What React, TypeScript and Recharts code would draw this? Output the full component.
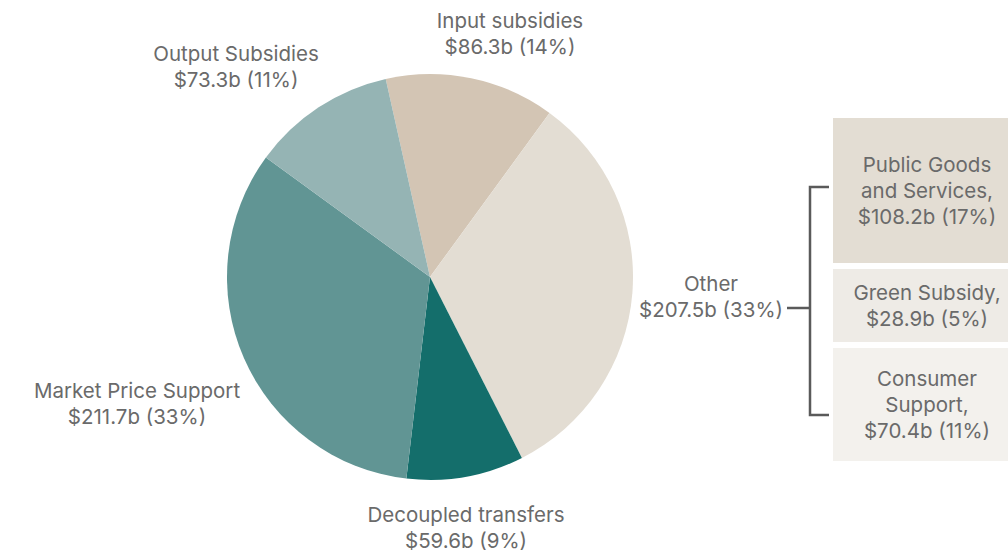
import React from "react";
import { PieChart, Pie, Cell } from "recharts";

const CATEGORIES = [
  "Input subsidies",
  "Other",
  "Decoupled transfers",
  "Market Price Support",
  "Output Subsidies",
];
const VALUES = [86.3, 207.5, 59.6, 211.7, 73.3];
const SHARES = [14, 33, 9, 33, 11];
const COLORS = ["#d3c5b4", "#e3ddd3", "#146e6b", "#619594", "#95b4b4"];

const OTHER_NAMES = [["Public Goods", "and Services,"], ["Green Subsidy,"], ["Consumer", "Support,"]];
const OTHER_VALUES = [108.2, 28.9, 70.4];
const OTHER_SHARES = [17, 5, 11];
const OTHER_COLORS = ["#e3ddd3", "#eeebe6", "#f3f1ed"];
const OTHER_HEIGHTS = [145, 73, 113];

const TEXT = "#6a6a6a";
const FONT = "Inter, 'Noto Sans', sans-serif";
const FS = 20.5;

// label centre offsets from the pie centre
const LABEL_OFFSETS = [
  [80, -244],
  [281, 19],
  [36, 250],
  [-293, 126],
  [-194, -211],
];

const pieData = CATEGORIES.map((name, i) => ({
  name,
  value: VALUES[i],
  share: SHARES[i],
}));

const fmt = (v: number, s: number) => `$${v.toFixed(1)}b (${s}%)`;

function renderLabel(props: any) {
  const { cx, cy, index } = props;
  const [dx, dy] = LABEL_OFFSETS[index];
  const x = cx + dx;
  const y = cy + dy;
  return (
    <g key={`lbl-${index}`}>
      <text x={x} y={y - 13} textAnchor="middle" dominantBaseline="central" fill={TEXT} fontSize={FS} fontFamily={FONT}>
        {CATEGORIES[index]}
      </text>
      <text x={x} y={y + 13} textAnchor="middle" dominantBaseline="central" fill={TEXT} fontSize={FS} fontFamily={FONT}>
        {fmt(VALUES[index], SHARES[index])}
      </text>
    </g>
  );
}

export default function App() {
  return (
    <div style={{ position: "absolute", left: 0, top: 0, width: 1008, height: 553, overflow: "hidden", background: "#fff" }}>
      <PieChart width={1008} height={553} margin={{ top: 0, right: 0, bottom: 0, left: 0 }}>
        <Pie
          data={pieData}
          dataKey="value"
          nameKey="name"
          cx={430}
          cy={277}
          outerRadius={203}
          startAngle={102.6}
          endAngle={-257.4}
          stroke="none"
          label={renderLabel}
          labelLine={false}
          isAnimationActive={false}
        >
          {pieData.map((d, i) => (
            <Cell key={d.name} fill={COLORS[i]} />
          ))}
        </Pie>
      </PieChart>
      <svg width={1008} height={553} style={{ position: "absolute", left: 0, top: 0, pointerEvents: "none" }}>
        <g stroke="#5a5a5a" strokeWidth={2.5} fill="none">
          <line x1={787} y1={308} x2={810} y2={308} />
          <polyline points="829,187 810,187 810,415 829,415" />
        </g>
      </svg>
      <div style={{ position: "absolute", left: 833, top: 118, width: 188, display: "flex", flexDirection: "column", gap: 6 }}>
        {OTHER_NAMES.map((lines, i) => (
          <div
            key={i}
            style={{
              height: OTHER_HEIGHTS[i],
              background: OTHER_COLORS[i],
              display: "flex",
              flexDirection: "column",
              justifyContent: "center",
              alignItems: "center",
              fontFamily: FONT,
              fontSize: FS,
              lineHeight: "26px",
              color: TEXT,
              textAlign: "center",
              whiteSpace: "nowrap",
            }}
          >
            {lines.map((l) => (
              <div key={l}>{l}</div>
            ))}
            <div>{fmt(OTHER_VALUES[i], OTHER_SHARES[i])}</div>
          </div>
        ))}
      </div>
    </div>
  );
}
